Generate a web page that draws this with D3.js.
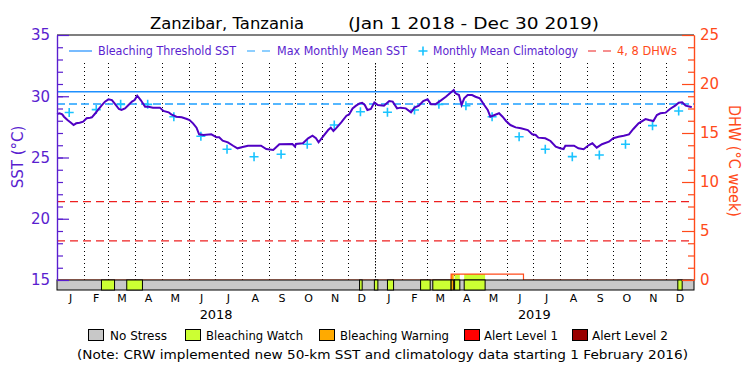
<!DOCTYPE html>
<html>
<head>
<meta charset="utf-8">
<script src="https://cdn.jsdelivr.net/npm/d3@7"></script>
<style>
body { margin: 0; background: #fff; }
text { font-family: "DejaVu Sans", sans-serif; }
</style>
</head>
<body>
<div id="chart"></div>
<script>
var sstDates = [
    "2018-01-01","2018-01-04","2018-01-07","2018-01-09","2018-01-13","2018-01-17","2018-01-20","2018-01-23","2018-01-27","2018-01-31",
    "2018-02-04","2018-02-08","2018-02-10","2018-02-14","2018-02-17","2018-02-21","2018-02-25","2018-03-01","2018-03-05","2018-03-08",
    "2018-03-13","2018-03-16","2018-03-20","2018-03-24","2018-03-28","2018-03-31","2018-04-03","2018-04-07","2018-04-10","2018-04-12",
    "2018-04-16","2018-04-21","2018-04-29","2018-05-03","2018-05-09","2018-05-12","2018-05-18","2018-05-24","2018-05-30","2018-06-02",
    "2018-06-06","2018-06-10","2018-06-13","2018-06-18","2018-06-27","2018-07-03","2018-07-06","2018-07-10","2018-07-16","2018-07-22",
    "2018-07-27","2018-08-02","2018-08-08","2018-08-23","2018-08-29","2018-09-06","2018-09-13","2018-09-28","2018-10-01","2018-10-02",
    "2018-10-10","2018-10-16","2018-10-21","2018-10-25","2018-10-28","2018-11-02","2018-11-08","2018-11-11","2018-11-14","2018-11-17",
    "2018-11-23","2018-11-29","2018-12-02","2018-12-06","2018-12-10","2018-12-14","2018-12-17","2018-12-20","2018-12-23","2018-12-27",
    "2018-12-31","2019-01-04","2019-01-11","2019-01-17","2019-01-21","2019-01-26","2019-01-30","2019-02-05","2019-02-11","2019-02-15",
    "2019-02-20","2019-02-25","2019-03-02","2019-03-06","2019-03-11","2019-03-17","2019-03-23","2019-03-29","2019-04-01","2019-04-03",
    "2019-04-07","2019-04-10","2019-04-13","2019-04-17","2019-04-22","2019-04-26","2019-05-01","2019-05-06","2019-05-10","2019-05-13",
    "2019-05-18","2019-05-23","2019-05-27","2019-05-31","2019-06-05","2019-06-11","2019-06-17","2019-06-25","2019-06-30","2019-07-04",
    "2019-07-07","2019-07-15","2019-07-21","2019-07-27","2019-08-01","2019-08-05","2019-08-07","2019-08-17","2019-08-22","2019-08-28",
    "2019-09-03","2019-09-07","2019-09-12","2019-09-18","2019-09-26","2019-10-01","2019-10-07","2019-10-13","2019-10-19","2019-10-24",
    "2019-10-30","2019-11-07","2019-11-11","2019-11-16","2019-11-20","2019-11-24","2019-11-30","2019-12-05","2019-12-11","2019-12-15",
    "2019-12-19","2019-12-23","2019-12-28","2019-12-30"
];
var sstValues = [
    28.55,28.61,28.52,28.33,28.06,27.84,27.65,27.79,27.84,27.92,
    28.20,28.25,28.28,28.61,28.88,29.23,29.56,29.75,29.69,29.42,
    28.96,28.88,29.01,29.29,29.56,29.69,30.05,29.69,29.37,29.15,
    29.15,29.07,29.07,28.80,28.69,28.52,28.33,28.28,28.14,28.06,
    27.79,27.43,26.89,26.84,26.89,26.65,26.65,26.37,26.24,25.96,
    25.75,25.86,25.96,25.96,25.69,25.61,26.08,26.10,25.88,26.10,
    26.16,26.57,26.78,26.57,26.24,26.70,27.24,27.43,27.16,27.38,
    27.87,28.41,28.52,29.01,29.23,29.42,29.47,29.29,28.88,28.96,
    29.50,29.29,29.23,29.61,29.56,29.01,29.07,29.01,28.69,29.07,
    29.23,29.61,29.75,29.34,29.34,29.64,29.96,30.32,30.51,30.24,
    30.10,29.29,29.83,30.10,30.10,29.96,29.83,29.29,28.88,28.33,
    28.47,28.61,28.33,27.98,27.65,27.46,27.38,27.24,26.90,26.84,
    26.62,26.57,26.35,25.88,25.75,25.69,25.96,25.96,25.75,25.67,
    26.02,26.16,25.80,26.08,26.29,26.57,26.70,26.78,26.89,27.33,
    27.79,28.14,28.06,27.98,28.47,28.61,28.66,28.96,29.23,29.47,
    29.50,29.23,29.15,29.10
];

// Monthly mean climatology (mid-month marks)
var climDates = [
    "2018-01-15","2018-02-15","2018-03-15","2018-04-15","2018-05-15","2018-06-15",
    "2018-07-15","2018-08-15","2018-09-15","2018-10-15","2018-11-15","2018-12-15",
    "2019-01-15","2019-02-15","2019-03-15","2019-04-15","2019-05-15","2019-06-15",
    "2019-07-15","2019-08-15","2019-09-15","2019-10-15","2019-11-15","2019-12-15"
];
var climValues = [
    28.67,28.91,29.34,29.34,28.33,26.73,25.67,25.06,25.26,26.08,27.65,28.74,
    28.69,28.88,29.34,29.23,28.33,26.70,25.67,25.07,25.20,26.08,27.60,28.80
];

var mmm = 29.37;              // max monthly mean
var dhwLevels = [4, 8];

// Degree heating weeks
var dhwDates = ["2018-01-01", "2019-03-29", "2019-06-20", "2019-12-30"];
var dhwValues = [0, 0.6, 0, 0];

// Stress level periods (1 = watch, 2 = warning)
var stressStart = ["2018-02-21","2018-03-22","2018-12-14","2018-12-31","2019-01-15","2019-02-22","2019-03-08","2019-03-29","2019-04-02","2019-04-13","2019-12-14"];
var stressEnd   = ["2018-03-08","2018-04-09","2018-12-17","2019-01-04","2019-01-22","2019-03-05","2019-03-29","2019-04-01","2019-04-08","2019-05-07","2019-12-19"];
var stressLevel = [1,1,1,1,1,1,1,2,1,1,1];

var stressNames = ["No Stress", "Bleaching Watch", "Bleaching Warning", "Alert Level 1", "Alert Level 2"];
var stressColors = ["#c8c8c8", "#ccff33", "#ffaa00", "#ff0000", "#990000"];
var monthLetters = ["J","F","M","A","M","J","J","A","S","O","N","D"];
var years = ["2018", "2019"];

var w = 750, h = 375;
var pLeft = 57, pRight = 694, pTop = 35, pBottom = 280, barBottom = 290;
var purple = "#5a1ecf", orange = "#ff4a1a";

var parse = d3.utcParse("%Y-%m-%d");

var svg = d3.select("#chart").append("svg")
    .attr("width", w)
    .attr("height", h);

var x = d3.scaleUtc()
    .domain([parse("2018-01-01"), parse("2020-01-01")])
    .range([pLeft, 693.5]);
var y = d3.scaleLinear().domain([15, 35]).range([pBottom, pTop]);
var y2 = d3.scaleLinear().domain([0, 25]).range([pBottom, pTop]);

// Month grid lines (dotted)
svg.append("g").selectAll("line")
    .data(d3.utcMonths(parse("2018-02-01"), parse("2020-01-01")))
    .enter().append("line")
    .attr("x1", function(d) { return Math.round(x(d)) + 0.5; })
    .attr("x2", function(d) { return Math.round(x(d)) + 0.5; })
    .attr("y1", 63)
    .attr("y2", pBottom)
    .attr("stroke", "#000")
    .attr("stroke-width", 1)
    .attr("stroke-dasharray", function(d) { return d.getUTCMonth() === 0 ? "1.5,1.5" : "1,3"; });

// Threshold and MMM lines
svg.append("line")
    .attr("x1", pLeft).attr("x2", pRight)
    .attr("y1", y(mmm + 1)).attr("y2", y(mmm + 1))
    .attr("stroke", "#1e8fff").attr("stroke-width", 1.5);
svg.append("line")
    .attr("x1", pLeft).attr("x2", pRight)
    .attr("y1", y(mmm)).attr("y2", y(mmm))
    .attr("stroke", "#1ea0ff").attr("stroke-width", 1.5)
    .attr("stroke-dasharray", "8,4");

// 4 and 8 DHW lines
svg.append("g").selectAll("line")
    .data(dhwLevels)
    .enter().append("line")
    .attr("x1", pLeft).attr("x2", pRight)
    .attr("y1", function(d) { return y2(d); })
    .attr("y2", function(d) { return y2(d); })
    .attr("stroke", "#ee2020").attr("stroke-width", 1.2)
    .attr("stroke-dasharray", "8,5");

// DHW area: stress colours shown under the DHW curve
var dhwData = dhwDates.map(function(d, i) { return { date: parse(d), v: dhwValues[i] }; });
var stressData = stressStart.map(function(d, i) {
    return { start: parse(d), end: parse(stressEnd[i]), level: stressLevel[i] };
});

svg.append("clipPath").attr("id", "dhwclip")
    .append("path")
    .attr("d", d3.area()
        .x(function(d) { return x(d.date); })
        .y0(y2(0))
        .y1(function(d) { return y2(d.v); })
        .curve(d3.curveStepAfter)(dhwData));

svg.append("g").attr("clip-path", "url(#dhwclip)")
    .selectAll("rect")
    .data(stressData)
    .enter().append("rect")
    .attr("x", function(d) { return x(d.start); })
    .attr("width", function(d) { return x(d.end) - x(d.start); })
    .attr("y", pTop)
    .attr("height", pBottom - pTop)
    .attr("fill", function(d) { return stressColors[d.level]; });

svg.append("path")
    .datum(dhwData)
    .attr("fill", "none")
    .attr("stroke", orange)
    .attr("stroke-width", 1.2)
    .attr("d", d3.line()
        .x(function(d) { return x(d.date); })
        .y(function(d) { return y2(d.v); })
        .curve(d3.curveStepAfter));

// Climatology crosses
svg.append("g").selectAll("path")
    .data(climDates)
    .enter().append("path")
    .attr("transform", function(d, i) { return "translate(" + x(parse(d)) + "," + y(climValues[i]) + ")"; })
    .attr("d", "M-4.5,0H4.5M0,-4.5V4.5")
    .attr("stroke", "#19c3ff")
    .attr("stroke-width", 1.6);

// SST line
svg.append("path")
    .datum(sstDates.map(function(d, i) { return { date: parse(d), v: sstValues[i] }; }))
    .attr("fill", "none")
    .attr("stroke", "#5000c4")
    .attr("stroke-width", 2)
    .attr("d", d3.line()
        .x(function(d) { return x(d.date); })
        .y(function(d) { return y(d.v); }));

// Stress bar
svg.append("rect")
    .attr("x", pLeft).attr("y", pBottom)
    .attr("width", pRight - pLeft).attr("height", barBottom - pBottom)
    .attr("fill", stressColors[0])
    .attr("stroke", "#000").attr("stroke-width", 1);
svg.append("g").selectAll("rect")
    .data(stressData)
    .enter().append("rect")
    .attr("x", function(d) { return x(d.start); })
    .attr("width", function(d) { return x(d.end) - x(d.start); })
    .attr("y", pBottom)
    .attr("height", barBottom - pBottom)
    .attr("fill", function(d) { return stressColors[d.level]; })
    .attr("stroke", "#000").attr("stroke-width", 1);

// Top frame
svg.append("line")
    .attr("x1", pLeft).attr("x2", pRight)
    .attr("y1", pTop).attr("y2", pTop)
    .attr("stroke", "#000").attr("stroke-width", 1.2);

// Left axis (SST)
var gl = svg.append("g").attr("transform", "translate(" + pLeft + ",0)");
gl.call(d3.axisLeft(y).tickValues(d3.range(16, 35, 1)).tickSize(-6).tickSizeOuter(0).tickFormat(""));
gl.append("g").call(d3.axisLeft(y).tickValues([15, 20, 25, 30, 35]).tickSize(-12).tickSizeOuter(0).tickPadding(7));
gl.selectAll("path, line").attr("stroke", purple).attr("stroke-width", 1.2);
gl.selectAll("text").attr("fill", purple).style("font-size", "15px")
    .style("font-family", "DejaVu Sans");

// Right axis (DHW)
var gr = svg.append("g").attr("transform", "translate(" + pRight + ",0)");
gr.call(d3.axisRight(y2).tickValues(d3.range(0, 25, 1.25).filter(function(d) { return d % 5 !== 0; }))
    .tickSize(-6).tickSizeOuter(0).tickFormat(""));
gr.append("g").call(d3.axisRight(y2).tickValues([0, 5, 10, 15, 20, 25]).tickSize(-12).tickSizeOuter(0).tickPadding(6));
gr.selectAll("path, line").attr("stroke", orange).attr("stroke-width", 1.2);
gr.selectAll("text").attr("fill", orange).style("font-size", "15px")
    .style("font-family", "DejaVu Sans");

// Axis titles
svg.append("text")
    .attr("transform", "translate(23,157) rotate(-90)")
    .attr("text-anchor", "middle")
    .attr("fill", purple)
    .style("font-size", "15px")
    .text("SST (°C)");
svg.append("text")
    .attr("transform", "translate(729,161) rotate(90)")
    .attr("text-anchor", "middle")
    .attr("fill", orange)
    .style("font-size", "15px")
    .attr("textLength", 112)
    .attr("lengthAdjust", "spacingAndGlyphs")
    .text("DHW (°C week)");

// Month and year labels
svg.append("g").selectAll("text")
    .data(d3.utcMonths(parse("2018-01-01"), parse("2020-01-01")))
    .enter().append("text")
    .attr("x", function(d) { return (x(d) + x(d3.utcMonth.offset(d, 1))) / 2; })
    .attr("y", 302)
    .attr("text-anchor", "middle")
    .style("font-size", "11px")
    .text(function(d) { return monthLetters[d.getUTCMonth()]; });
svg.append("g").selectAll("text")
    .data(years)
    .enter().append("text")
    .attr("x", function(d) { return (x(parse(d + "-01-01")) + x(parse((+d + 1) + "-01-01"))) / 2; })
    .attr("y", 319)
    .attr("text-anchor", "middle")
    .style("font-size", "12px")
    .attr("textLength", 33)
    .attr("lengthAdjust", "spacingAndGlyphs")
    .text(function(d) { return d; });

// Title
svg.append("text").attr("x", 150).attr("y", 29)
    .style("font-size", "16px")
    .attr("textLength", 154).attr("lengthAdjust", "spacingAndGlyphs")
    .text("Zanzibar, Tanzania");
svg.append("text").attr("x", 348).attr("y", 29)
    .style("font-size", "16px")
    .attr("textLength", 251).attr("lengthAdjust", "spacingAndGlyphs")
    .text("(Jan 1 2018 - Dec 30 2019)");

// Top legend
var lg = svg.append("g");
lg.append("line").attr("x1", 69).attr("x2", 92).attr("y1", 51).attr("y2", 51)
    .attr("stroke", "#1e8fff").attr("stroke-width", 1.2);
lg.append("line").attr("x1", 247).attr("x2", 270).attr("y1", 51).attr("y2", 51)
    .attr("stroke", "#1ea0ff").attr("stroke-width", 1.2).attr("stroke-dasharray", "8,7");
lg.append("path").attr("transform", "translate(423,51)").attr("d", "M-4.5,0H4.5M0,-4.5V4.5")
    .attr("stroke", "#19c3ff").attr("stroke-width", 1.6);
lg.append("line").attr("x1", 588).attr("x2", 612).attr("y1", 51).attr("y2", 51)
    .attr("stroke", "#ee2020").attr("stroke-width", 1.2).attr("stroke-dasharray", "8,7");
var topLegend = [
    { text: "Bleaching Threshold SST", x: 98, len: 138, color: purple },
    { text: "Max Monthly Mean SST", x: 277, len: 130, color: purple },
    { text: "Monthly Mean Climatology", x: 433, len: 145, color: purple },
    { text: "4, 8 DHWs", x: 617, len: 60, color: orange }
];
lg.selectAll("text")
    .data(topLegend)
    .enter().append("text")
    .attr("x", function(d) { return d.x; })
    .attr("y", 55)
    .attr("fill", function(d) { return d.color; })
    .style("font-size", "11.5px")
    .attr("textLength", function(d) { return d.len; })
    .attr("lengthAdjust", "spacingAndGlyphs")
    .text(function(d) { return d.text; });

// Bottom legend
var boxX = [88, 185, 319, 464, 572];
var labX = [110, 206, 340, 484, 592];
var labLen = [57, 97, 109, 74, 76];
var bl = svg.append("g");
bl.selectAll("rect")
    .data(stressNames)
    .enter().append("rect")
    .attr("x", function(d, i) { return boxX[i] + 0.5; })
    .attr("y", 329.5)
    .attr("width", 15).attr("height", 11)
    .attr("fill", function(d, i) { return stressColors[i]; })
    .attr("stroke", "#000");
bl.selectAll("text")
    .data(stressNames)
    .enter().append("text")
    .attr("x", function(d, i) { return labX[i]; })
    .attr("y", 340)
    .style("font-size", "11.5px")
    .attr("textLength", function(d, i) { return labLen[i]; })
    .attr("lengthAdjust", "spacingAndGlyphs")
    .text(function(d) { return d; });

svg.append("text").attr("x", 77).attr("y", 358.5)
    .style("font-size", "12px")
    .attr("textLength", 611).attr("lengthAdjust", "spacingAndGlyphs")
    .text("(Note: CRW implemented new 50-km SST and climatology data starting 1 February 2016)");
</script>
</body>
</html>
